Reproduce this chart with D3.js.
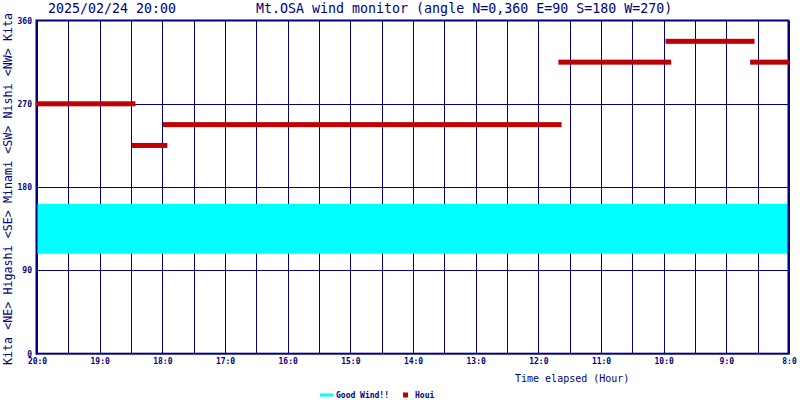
<!DOCTYPE html>
<html><head><meta charset="utf-8">
<script src="https://cdn.jsdelivr.net/npm/d3@7"></script>
<style>
html,body{margin:0;padding:0;background:#fff;}
svg{display:block;font-family:"DejaVu Sans Mono",monospace;}
</style></head>
<body><svg id="c" width="800" height="400"></svg>
<script>
// ---- data ----
const titleDate = "2025/02/24 20:00";
const titleText = "Mt.OSA wind monitor (angle N=0,360 E=90 S=180 W=270)";
const hourTickValues = [0,1,2,3,4,5,6,7,8,9,10,11,12];
const hourTickLabels = ["20:0","19:0","18:0","17:0","16:0","15:0","14:0","13:0","12:0","11:0","10:0","9:0","8:0"];
const angleTicks = [0,90,180,270,360];
const dirNames = ["Kita","<NE>","Higashi","<SE>","Minami","<SW>","Nishi","<NW>","Kita"];
const segStart = [-0.02, 1.51, 2.01, 8.32, 10.03, 11.38];
const segEnd   = [1.57, 2.08, 8.37, 10.12, 11.45, 12.0];
const segAngle = [270, 225, 247.5, 315, 337.5, 315];
const goodWindRange = [108, 162];
const legendNames = ["Good Wind!!","Houi"];

// ---- drawing ----
const navy = "#000080", red = "#c00000", cyan = "#00ffff";
const svg = d3.select("#c");
const x = d3.scaleLinear().domain([0,12]).range([37,789]);
const y = d3.scaleLinear().domain([0,360]).range([353.7,20.5]);

// vertical grid (every half hour)
const halfHours = d3.range(0, 12.01, 0.5);
svg.append("g").attr("transform",`translate(0,${y(0)})`)
  .call(d3.axisBottom(x).tickValues(halfHours).tickSize(-(y(0)-y(360))).tickFormat(""))
  .call(g=>g.select(".domain").remove())
  .call(g=>g.selectAll("line").attr("stroke",navy).attr("stroke-width",1).attr("shape-rendering","crispEdges"));

// horizontal grid
svg.append("g").attr("transform",`translate(${x(0)},0)`)
  .call(d3.axisRight(y).tickValues([90,180,270]).tickSize(x(12)-x(0)).tickFormat(""))
  .call(g=>g.select(".domain").remove())
  .call(g=>g.selectAll("line").attr("stroke",navy).attr("stroke-width",1).attr("shape-rendering","crispEdges"));

// good wind band
svg.append("rect").attr("x",x(0)).attr("width",x(12)-x(0))
  .attr("y",y(goodWindRange[1])).attr("height",y(goodWindRange[0])-y(goodWindRange[1]))
  .attr("fill",cyan);

// frame
svg.append("rect").attr("x",x(0)-0.5).attr("y",y(360)).attr("width",x(12)-x(0)).attr("height",y(0)-y(360))
  .attr("fill","none").attr("stroke",navy).attr("stroke-width",2);

// wind direction bars
svg.append("g").selectAll("rect").data(segAngle).join("rect")
  .attr("x",(d,i)=>x(segStart[i])).attr("width",(d,i)=>x(segEnd[i])-x(segStart[i]))
  .attr("y",d=>y(d)-2.5).attr("height",5).attr("fill",red);

// x tick labels
svg.append("g").attr("transform",`translate(0,${y(0)})`)
  .call(d3.axisBottom(x).tickValues(hourTickValues).tickSize(0).tickPadding(5)
        .tickFormat((d,i)=>hourTickLabels[i]))
  .call(g=>g.select(".domain").remove())
  .call(g=>g.selectAll("text").attr("fill",navy).attr("font-size",8).attr("font-weight","bold")
        .attr("font-family","'DejaVu Sans Mono',monospace"));

// y tick labels
svg.append("g").attr("transform",`translate(${x(0)},0)`)
  .call(d3.axisLeft(y).tickValues(angleTicks).tickSize(0).tickPadding(5))
  .call(g=>g.select(".domain").remove())
  .call(g=>g.selectAll("text").attr("fill",navy).attr("font-size",8).attr("font-weight","bold")
        .attr("font-family","'DejaVu Sans Mono',monospace"));

// direction names (rotated, one string)
svg.append("text")
  .attr("transform",`translate(12,189) rotate(-90)`)
  .attr("text-anchor","middle").attr("font-size",11.6).attr("fill",navy)
  .attr("textLength",352).attr("lengthAdjust","spacing")
  .text(dirNames.join(" "));

// titles
svg.append("text").attr("x",48).attr("y",13).attr("font-size",13.3).attr("fill",navy).text(titleDate);
svg.append("text").attr("x",256).attr("y",13).attr("font-size",13.3).attr("fill",navy).text(titleText);

// x axis title
svg.append("text").attr("x",515).attr("y",382).attr("font-size",10).attr("fill",navy).text("Time elapsed (Hour)");

// legend
const lg = svg.append("g");
lg.append("line").attr("x1",320).attr("x2",333).attr("y1",395).attr("y2",395).attr("stroke",cyan).attr("stroke-width",3);
lg.append("text").attr("x",336).attr("y",397.5).attr("font-size",8).attr("font-weight","bold").attr("fill",navy).text(legendNames[0]);
lg.append("rect").attr("x",403).attr("y",392.5).attr("width",5).attr("height",5).attr("fill",red);
lg.append("text").attr("x",415).attr("y",397.5).attr("font-size",8).attr("font-weight","bold").attr("fill",navy).text(legendNames[1]);
</script></body></html>
